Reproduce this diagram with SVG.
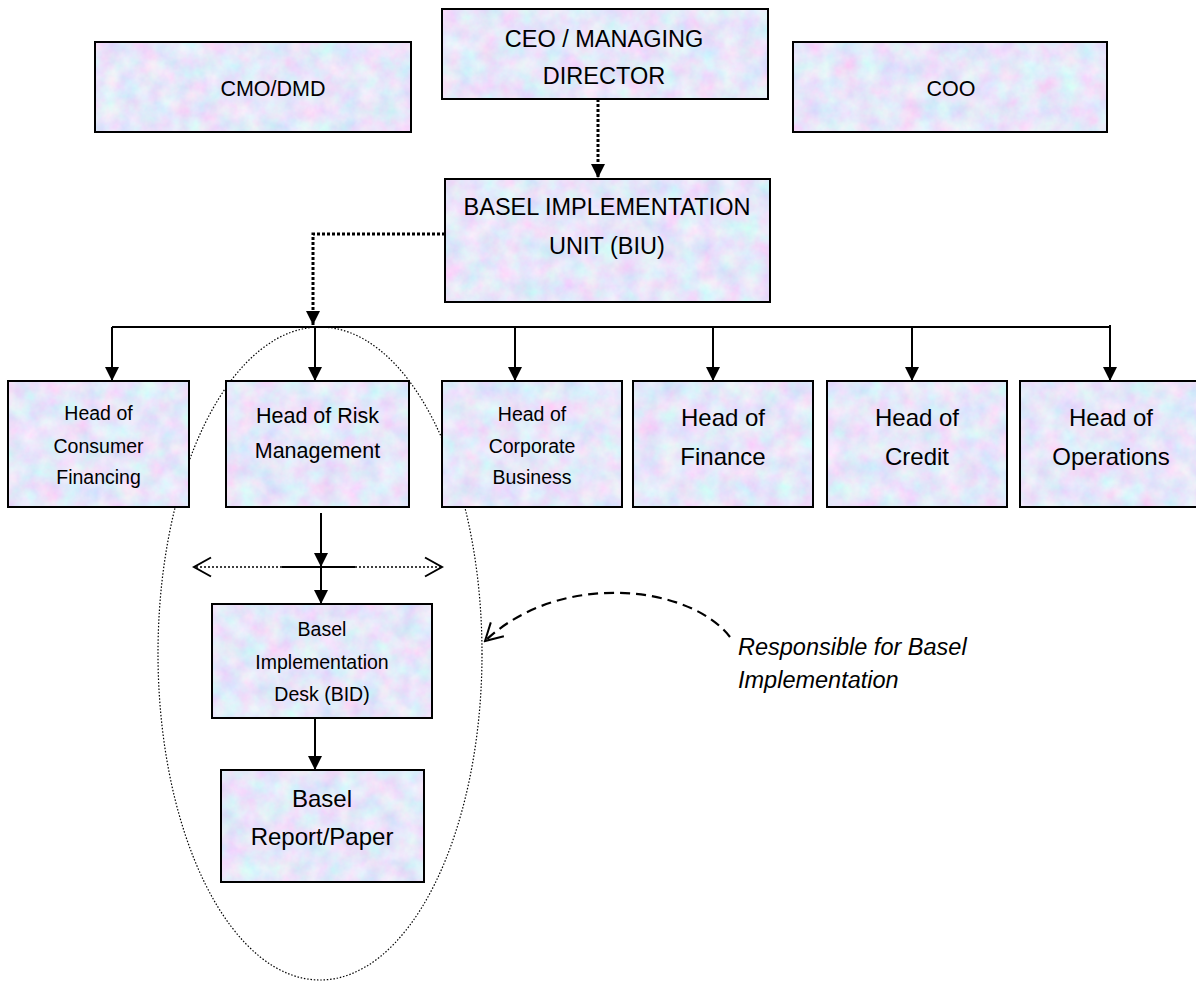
<svg xmlns="http://www.w3.org/2000/svg" width="1196" height="983" viewBox="0 0 1196 983">
<style>
.frame{fill:none;stroke:#000;stroke-width:2}
.t{font-family:"Liberation Sans",Arial,sans-serif;fill:#000;text-anchor:middle}
.s19{font-size:19.5px}
.s21{font-size:21.5px}
.s22{font-size:23.5px}
.s24{font-size:24px}
.solid{fill:none;stroke:#000;stroke-width:2}
.dot3{fill:none;stroke:#000;stroke-width:3;stroke-dasharray:3 2}
.fine{fill:none;stroke:#000;stroke-width:1.5;stroke-dasharray:2 2}
.dash{fill:none;stroke:#000;stroke-width:2.2;stroke-dasharray:10 6}
.ell{fill:none;stroke:#000;stroke-width:1.2;stroke-dasharray:1.5 1.8}
.note{font-family:"Liberation Sans",Arial,sans-serif;font-style:italic;font-size:23.5px;fill:#000}
</style>
<defs>
<filter id="tex" x="0" y="0" width="1" height="1">
<feTurbulence type="fractalNoise" baseFrequency="0.05" numOctaves="4" seed="7"/>
<feColorMatrix type="matrix" values="0.5 0 0 0 0.54  -0.15 0.4 0 0 0.67  0 0 0.12 0 0.89  0 0 0 0 1"/>
</filter>
<marker id="ah" markerUnits="userSpaceOnUse" markerWidth="14" markerHeight="14" refX="14" refY="7" orient="auto">
<path d="M0,0 L14,7 L0,14 z" fill="#000"/>
</marker>
<marker id="open" markerUnits="userSpaceOnUse" markerWidth="20" markerHeight="22" refX="18" refY="11" orient="auto">
<path d="M1,1.5 L18,11 L1,20.5" fill="none" stroke="#000" stroke-width="2"/>
</marker>
</defs>

<g id="connectors">
<path class="dot3" d="M598,99 V178" marker-end="url(#ah)"/>
<path class="dot3" d="M445,234 H313 V325" marker-end="url(#ah)"/>
<path class="solid" d="M112,327 H1110"/>
<path class="solid" d="M112,327 V381" marker-end="url(#ah)"/>
<path class="solid" d="M315,327 V381" marker-end="url(#ah)"/>
<path class="solid" d="M515,327 V381" marker-end="url(#ah)"/>
<path class="solid" d="M713,327 V381" marker-end="url(#ah)"/>
<path class="solid" d="M912,327 V381" marker-end="url(#ah)"/>
<path class="solid" d="M1110,325 V381" marker-end="url(#ah)"/>
<path class="solid" d="M321,513 V567" marker-end="url(#ah)"/>
<path class="solid" d="M321,567 V604" marker-end="url(#ah)"/>
<path class="solid" d="M282,567 H355"/>
<path class="fine" d="M282,567 H194" marker-end="url(#open)"/>
<path class="fine" d="M355,567 H442" marker-end="url(#open)"/>
<path class="solid" d="M315,718 V770" marker-end="url(#ah)"/>
<path class="dash" d="M730,637 C690,585 560,570 485,641" marker-end="url(#open)"/>
</g>

<g id="responsibility-ellipse">
<ellipse class="ell" cx="320" cy="653.5" rx="162" ry="326.5"/>
</g>

<g id="ceo">
<rect x="442" y="9" width="326" height="90" filter="url(#tex)"/>
<rect class="frame" x="442" y="9" width="326" height="90"/>
<text class="t s22" x="604" y="47">CEO / MANAGING</text>
<text class="t s22" x="604" y="84">DIRECTOR</text>
</g>

<g id="cmo">
<rect x="95" y="42" width="316" height="90" filter="url(#tex)"/>
<rect class="frame" x="95" y="42" width="316" height="90"/>
<text class="t s21" x="273" y="96">CMO/DMD</text>
</g>

<g id="coo">
<rect x="793" y="42" width="314" height="90" filter="url(#tex)"/>
<rect class="frame" x="793" y="42" width="314" height="90"/>
<text class="t s21" x="951" y="96">COO</text>
</g>

<g id="biu">
<rect x="445" y="179" width="325" height="123" filter="url(#tex)"/>
<rect class="frame" x="445" y="179" width="325" height="123"/>
<text class="t s22" x="607" y="215">BASEL IMPLEMENTATION</text>
<text class="t s22" x="607" y="254">UNIT (BIU)</text>
</g>

<g id="consumer">
<rect x="8" y="381" width="181" height="126" filter="url(#tex)"/>
<rect class="frame" x="8" y="381" width="181" height="126"/>
<text class="t s19" x="98.5" y="420">Head of</text>
<text class="t s19" x="98.5" y="453">Consumer</text>
<text class="t s19" x="98.5" y="484">Financing</text>
</g>

<g id="risk">
<rect x="226" y="381" width="183" height="126" filter="url(#tex)"/>
<rect class="frame" x="226" y="381" width="183" height="126"/>
<text class="t s21" x="317.5" y="423">Head of Risk</text>
<text class="t s21" x="317.5" y="458">Management</text>
</g>

<g id="corporate">
<rect x="442" y="381" width="180" height="126" filter="url(#tex)"/>
<rect class="frame" x="442" y="381" width="180" height="126"/>
<text class="t s19" x="532" y="421">Head of</text>
<text class="t s19" x="532" y="453">Corporate</text>
<text class="t s19" x="532" y="484">Business</text>
</g>

<g id="finance">
<rect x="633" y="381" width="180" height="126" filter="url(#tex)"/>
<rect class="frame" x="633" y="381" width="180" height="126"/>
<text class="t s24" x="723" y="426">Head of</text>
<text class="t s24" x="723" y="465">Finance</text>
</g>

<g id="credit">
<rect x="827" y="381" width="180" height="126" filter="url(#tex)"/>
<rect class="frame" x="827" y="381" width="180" height="126"/>
<text class="t s24" x="917" y="426">Head of</text>
<text class="t s24" x="917" y="465">Credit</text>
</g>

<g id="operations">
<rect x="1020" y="381" width="182" height="126" filter="url(#tex)"/>
<rect class="frame" x="1020" y="381" width="182" height="126"/>
<text class="t s24" x="1111" y="426">Head of</text>
<text class="t s24" x="1111" y="465">Operations</text>
</g>

<g id="bid">
<rect x="212" y="604" width="220" height="114" filter="url(#tex)"/>
<rect class="frame" x="212" y="604" width="220" height="114"/>
<text class="t s19" x="322" y="636">Basel</text>
<text class="t s19" x="322" y="669">Implementation</text>
<text class="t s19" x="322" y="701">Desk (BID)</text>
</g>

<g id="report">
<rect x="221" y="770" width="203" height="112" filter="url(#tex)"/>
<rect class="frame" x="221" y="770" width="203" height="112"/>
<text class="t s24" x="322" y="807">Basel</text>
<text class="t s24" x="322" y="845">Report/Paper</text>
</g>

<g id="annotation">
<text class="note" x="738" y="655">Responsible for Basel</text>
<text class="note" x="738" y="688">Implementation</text>
</g>
</svg>
